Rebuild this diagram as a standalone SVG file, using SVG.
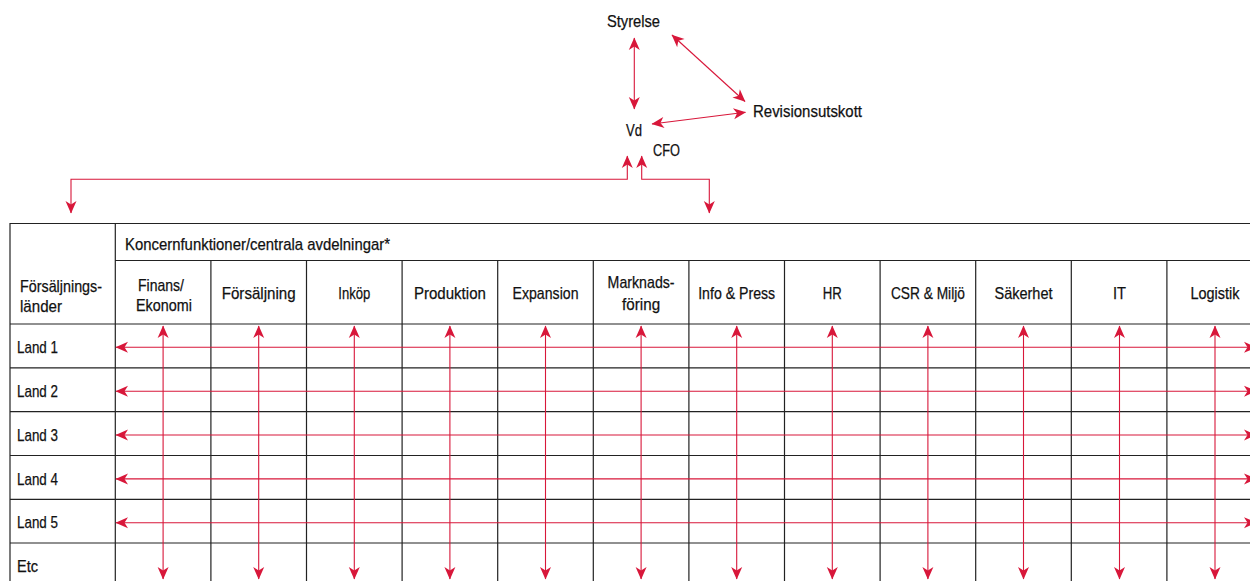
<svg xmlns="http://www.w3.org/2000/svg" width="1250" height="581" viewBox="0 0 1250 581">
<style>
text{font-family:"Liberation Sans",Arial,sans-serif;font-size:17px;fill:#111;stroke:#111;stroke-width:0.25;}
.c{text-anchor:middle;}
.grid line{stroke:#222;stroke-width:1.2;}
.con{fill:none;stroke:#d8173a;stroke-width:1.1;marker-start:url(#ah);marker-end:url(#ah);}
.one{fill:none;stroke:#d8173a;stroke-width:1.1;}
</style>
<defs>
<marker id="ah" viewBox="-14 -7 15 14" refX="0" refY="0" markerWidth="15" markerHeight="14" markerUnits="userSpaceOnUse" orient="auto-start-reverse">
<path d="M0.5,0 L-12,-5.5 L-8.5,0 L-12,5.5 Z" fill="#d8173a"/>
</marker>
</defs>
<rect width="1250" height="581" fill="#fff"/>

<g id="styrelse"><text x="607" y="27" textLength="53" lengthAdjust="spacingAndGlyphs">Styrelse</text></g>
<g id="vd"><text x="626" y="136" textLength="16" lengthAdjust="spacingAndGlyphs">Vd</text></g>
<g id="cfo"><text x="653" y="156" textLength="27" lengthAdjust="spacingAndGlyphs">CFO</text></g>
<g id="revisionsutskott"><text x="753" y="117" textLength="109" lengthAdjust="spacingAndGlyphs">Revisionsutskott</text></g>

<g id="table">
<g class="grid">
<line x1="10" y1="223.5" x2="1250" y2="223.5"/>
<line x1="10" y1="223" x2="10" y2="581"/>
<line x1="115.3" y1="223" x2="115.3" y2="581"/>
<line x1="115" y1="260.5" x2="1250" y2="260.5"/>
<line x1="10" y1="324" x2="1250" y2="324"/>
<line x1="10" y1="367.8" x2="1250" y2="367.8"/>
<line x1="10" y1="411.7" x2="1250" y2="411.7"/>
<line x1="10" y1="455.5" x2="1250" y2="455.5"/>
<line x1="10" y1="499.3" x2="1250" y2="499.3"/>
<line x1="10" y1="543" x2="1250" y2="543"/>
<line x1="210.9" y1="260" x2="210.9" y2="581"/>
<line x1="306.5" y1="260" x2="306.5" y2="581"/>
<line x1="402.1" y1="260" x2="402.1" y2="581"/>
<line x1="497.7" y1="260" x2="497.7" y2="581"/>
<line x1="593.3" y1="260" x2="593.3" y2="581"/>
<line x1="688.9" y1="260" x2="688.9" y2="581"/>
<line x1="784.5" y1="260" x2="784.5" y2="581"/>
<line x1="880.1" y1="260" x2="880.1" y2="581"/>
<line x1="975.7" y1="260" x2="975.7" y2="581"/>
<line x1="1071.3" y1="260" x2="1071.3" y2="581"/>
<line x1="1166.9" y1="260" x2="1166.9" y2="581"/>
</g>
<g id="header">
<text x="125" y="250" textLength="265" lengthAdjust="spacingAndGlyphs">Koncernfunktioner/centrala avdelningar*</text>
<text x="20" y="292" textLength="82" lengthAdjust="spacingAndGlyphs">Försäljnings-</text>
<text x="20" y="312" textLength="42" lengthAdjust="spacingAndGlyphs">länder</text>
<text class="c" x="161" y="291" textLength="46" lengthAdjust="spacingAndGlyphs">Finans/</text>
<text class="c" x="164" y="311" textLength="56" lengthAdjust="spacingAndGlyphs">Ekonomi</text>
<text class="c" x="258.7" y="299" textLength="74" lengthAdjust="spacingAndGlyphs">Försäljning</text>
<text class="c" x="354.3" y="299" textLength="32" lengthAdjust="spacingAndGlyphs">Inköp</text>
<text class="c" x="449.9" y="299" textLength="72" lengthAdjust="spacingAndGlyphs">Produktion</text>
<text class="c" x="545.5" y="299" textLength="66" lengthAdjust="spacingAndGlyphs">Expansion</text>
<text class="c" x="641.1" y="288" textLength="67" lengthAdjust="spacingAndGlyphs">Marknads-</text>
<text class="c" x="641.1" y="310" textLength="38" lengthAdjust="spacingAndGlyphs">föring</text>
<text class="c" x="736.7" y="299" textLength="77" lengthAdjust="spacingAndGlyphs">Info &amp; Press</text>
<text class="c" x="832.3" y="299" textLength="19" lengthAdjust="spacingAndGlyphs">HR</text>
<text class="c" x="927.9" y="299" textLength="74" lengthAdjust="spacingAndGlyphs">CSR &amp; Miljö</text>
<text class="c" x="1023.5" y="299" textLength="58" lengthAdjust="spacingAndGlyphs">Säkerhet</text>
<text class="c" x="1119.5" y="299" textLength="13" lengthAdjust="spacingAndGlyphs">IT</text>
<text class="c" x="1215" y="299" textLength="49" lengthAdjust="spacingAndGlyphs">Logistik</text>
</g>
<g id="rows">
<text x="17" y="353" textLength="41" lengthAdjust="spacingAndGlyphs">Land 1</text>
<text x="17" y="397" textLength="41" lengthAdjust="spacingAndGlyphs">Land 2</text>
<text x="17" y="441" textLength="41" lengthAdjust="spacingAndGlyphs">Land 3</text>
<text x="17" y="484.5" textLength="41" lengthAdjust="spacingAndGlyphs">Land 4</text>
<text x="17" y="528" textLength="41" lengthAdjust="spacingAndGlyphs">Land 5</text>
<text x="17" y="572" textLength="21" lengthAdjust="spacingAndGlyphs">Etc</text>
</g>
</g>

<g id="connectors">
<path class="con" d="M634.3,38 V109"/>
<path class="con" d="M672,35 L745,101.5"/>
<path class="con" d="M652,124 L745.5,112.3"/>
<path class="one" d="M627.3,156 V179.3 H71 V213" marker-start="url(#ah)" marker-end="url(#ah)"/>
<path class="one" d="M641.7,156 V179.3 H709.3 V213" marker-start="url(#ah)" marker-end="url(#ah)"/>
<path class="con" d="M163.1,326 V579"/>
<path class="con" d="M258.7,326 V579"/>
<path class="con" d="M354.3,326 V579"/>
<path class="con" d="M449.9,326 V579"/>
<path class="con" d="M545.5,326 V579"/>
<path class="con" d="M641.1,326 V579"/>
<path class="con" d="M736.7,326 V579"/>
<path class="con" d="M832.3,326 V579"/>
<path class="con" d="M927.9,326 V579"/>
<path class="con" d="M1023.5,326 V579"/>
<path class="con" d="M1119.5,326 V579"/>
<path class="con" d="M1215,326 V579"/>
<path class="con" d="M1256,347.3 H116"/>
<path class="con" d="M1256,391.2 H116"/>
<path class="con" d="M1256,435 H116"/>
<path class="con" d="M1256,478.9 H116"/>
<path class="con" d="M1256,522.7 H116"/>
</g>
</svg>
